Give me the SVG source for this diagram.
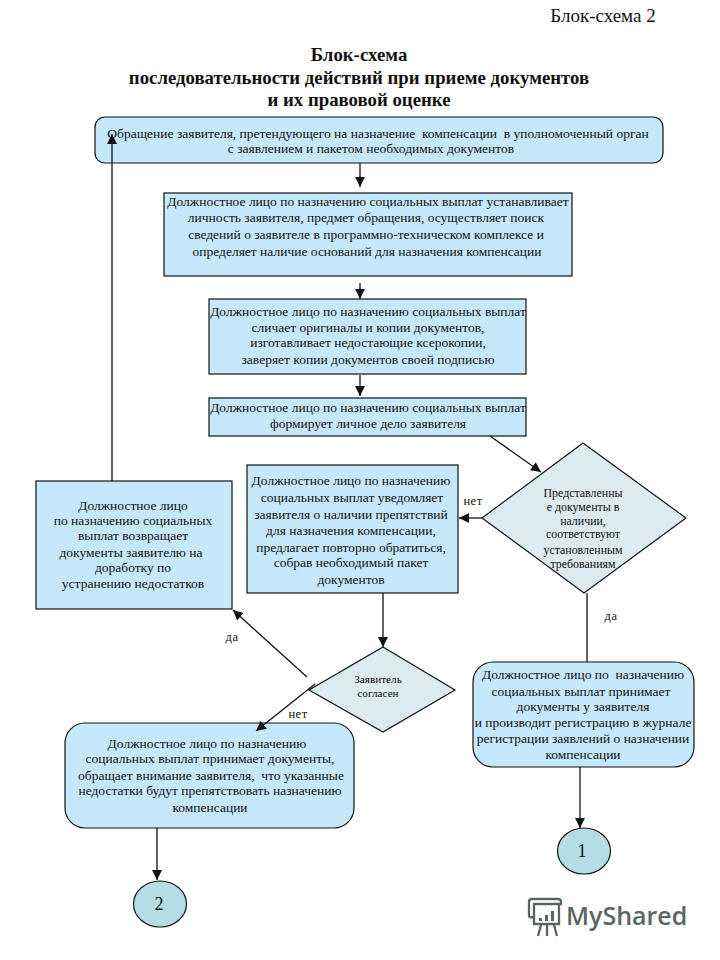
<svg xmlns="http://www.w3.org/2000/svg" width="720" height="960" viewBox="0 0 720 960">
<style>
text{font-family:"Liberation Serif","Times New Roman",serif;fill:#111;text-anchor:middle;font-size:13.5px;white-space:pre}
.box{fill:#c5e9fb;stroke:#111;stroke-width:1.2}
.dia{fill:#dcebf0;stroke:#111;stroke-width:1.2}
.cir{fill:#b5dde6;stroke:#111;stroke-width:1.2}
.c{fill:none;stroke:#111;stroke-width:1.3;marker-end:url(#a)}
.l{fill:none;stroke:#111;stroke-width:1.3}
.t{font-size:18.8px;font-weight:bold}
.n{font-size:18px}
.d{font-size:11.9px}
.e{font-size:11.2px}
.lab{font-size:12.5px;letter-spacing:.5px}
.logo{font-family:"Open Sans","Liberation Sans",sans-serif;font-size:25px;fill:#5b6663;text-anchor:start;font-weight:600}
</style>
<defs><marker id="a" markerUnits="userSpaceOnUse" markerWidth="11" markerHeight="10" refX="10" refY="5" orient="auto"><path d="M0 0L10 5L0 10Z" fill="#111"/></marker></defs>
<rect width="720" height="960" fill="#fff"/>
<g id="heading">
<text x="603" y="22" style="font-size:19px">Блок-схема 2</text>
<text class="t" x="359" y="61">Блок-схема</text>
<text class="t" x="359" y="84">последовательности действий при приеме документов</text>
<text class="t" x="359" y="106">и их правовой оценке</text>
</g>
<g id="n1"><rect class="box" x="95" y="117" width="568" height="46" rx="10"/>
<text x="378" y="138">Обращение заявителя, претендующего на назначение  компенсации  в уполномоченный орган</text>
<text x="371" y="153">с заявлением и пакетом необходимых документов</text></g>
<g id="n2"><rect class="box" x="164" y="193" width="408" height="83"/>
<text x="368" y="206">Должностное лицо по назначению социальных выплат устанавливает</text>
<text x="366" y="222">личность заявителя, предмет обращения, осуществляет поиск</text>
<text x="366" y="239">сведений о заявителе в программно-техническом комплексе и</text>
<text x="367" y="256">определяет наличие оснований для назначения компенсации</text></g>
<g id="n3"><rect class="box" x="209" y="299" width="317" height="75"/>
<text x="368" y="316">Должностное лицо по назначению социальных выплат</text>
<text x="368" y="332">сличает оригиналы и копии документов,</text>
<text x="368" y="347">изготавливает недостающие ксерокопии,</text>
<text x="368" y="364">заверяет копии документов своей подписью</text></g>
<g id="n4"><rect class="box" x="209" y="398" width="317" height="38"/>
<text x="368" y="412">Должностное лицо по назначению социальных выплат</text>
<text x="368" y="428">формирует личное дело заявителя</text></g>
<g id="n5"><polygon class="dia" points="583,443 686,518 584,593 482,518"/>
<text class="d" x="583" y="497">Представленны</text>
<text class="d" x="583" y="511">е документы в</text>
<text class="d" x="583" y="525">наличии,</text>
<text class="d" x="583" y="538">соответствуют</text>
<text class="d" x="583" y="554">установленным</text>
<text class="d" x="583" y="568">требованиям</text></g>
<g id="n6"><rect class="box" x="247" y="465" width="211" height="128"/>
<text x="351" y="485">Должностное лицо по назначению</text>
<text x="352" y="502">социальных выплат уведомляет</text>
<text x="351" y="519">заявителя о наличии препятствий</text>
<text x="351" y="535">для назначения компенсации,</text>
<text x="351" y="552">предлагает повторно обратиться,</text>
<text x="351" y="567">собрав необходимый пакет</text>
<text x="351" y="584">документов</text></g>
<g id="n7"><rect class="box" x="36" y="481" width="196" height="128"/>
<text x="133" y="510">Должностное лицо</text>
<text x="133" y="525">по назначению социальных</text>
<text x="133" y="540">выплат возвращает</text>
<text x="131" y="557">документы заявителю на</text>
<text x="133" y="572">доработку по</text>
<text x="133" y="588">устранению недостатков</text></g>
<g id="n8"><polygon class="dia" points="383,647 455,690 383,732 309,690"/>
<text class="e" x="378" y="683">Заявитель</text>
<text class="e" x="378" y="697">согласен</text></g>
<g id="n9"><rect class="box" x="473" y="662" width="221" height="105" rx="20"/>
<text x="583" y="679">Должностное лицо по  назначению</text>
<text x="581" y="696">социальных выплат принимает</text>
<text x="583" y="711">документы у заявителя</text>
<text x="583" y="727">и производит регистрацию в журнале</text>
<text x="583" y="743">регистрации заявлений о назначении</text>
<text x="583" y="759">компенсации</text></g>
<g id="n10"><rect class="box" x="65" y="723" width="289" height="105" rx="20"/>
<text x="207" y="748">Должностное лицо по назначению</text>
<text x="210" y="763">социальных выплат принимает документы,</text>
<text x="211" y="780">обращает внимание заявителя,  что указанные</text>
<text x="210" y="795">недостатки будут препятствовать назначению</text>
<text x="210" y="812">компенсации</text></g>
<g id="n11"><ellipse class="cir" cx="584" cy="851" rx="26.5" ry="23"/><text class="n" x="582" y="857">1</text></g>
<g id="n12"><ellipse class="cir" cx="160" cy="904" rx="26.5" ry="23"/><text class="n" x="159" y="910">2</text></g>
<g id="connectors">
<path class="c" d="M360 163V187"/>
<path class="c" d="M360 283V299"/>
<path class="c" d="M360 375V396"/>
<path class="c" d="M490 436L541 472"/>
<path class="c" d="M482 518H459"/>
<path class="l" d="M587 593V662"/>
<path class="c" d="M383 593V647"/>
<path class="c" d="M307 677L233 610"/>
<path class="c" d="M315 684L256 731"/>
<path class="c" d="M112 481V134"/>
<path class="c" d="M580 767V828"/>
<path class="c" d="M157 828V880"/>
</g>
<g id="labels">
<text class="lab" x="473" y="505">нет</text>
<text class="lab" x="611" y="620">да</text>
<text class="lab" x="232" y="641">да</text>
<text class="lab" x="298" y="718">нет</text>
</g>
<g id="logo">
<path d="M529 902Q529 899 532 899H558Q561 899 561 902V904H534V917M529 902V916Q529 918 534 917M534 904V924H559V904M538 936L541 925M554 925L557 936M547 925V936" fill="none" stroke="#5b6663" stroke-width="2.3"/>
<path d="M539 921v-3h3v3zM545 921v-6h3v6zM551 921v-10h3v10z" fill="#5b6663"/>
<text class="logo" x="566" y="925">MyShared</text>
</g>
</svg>
